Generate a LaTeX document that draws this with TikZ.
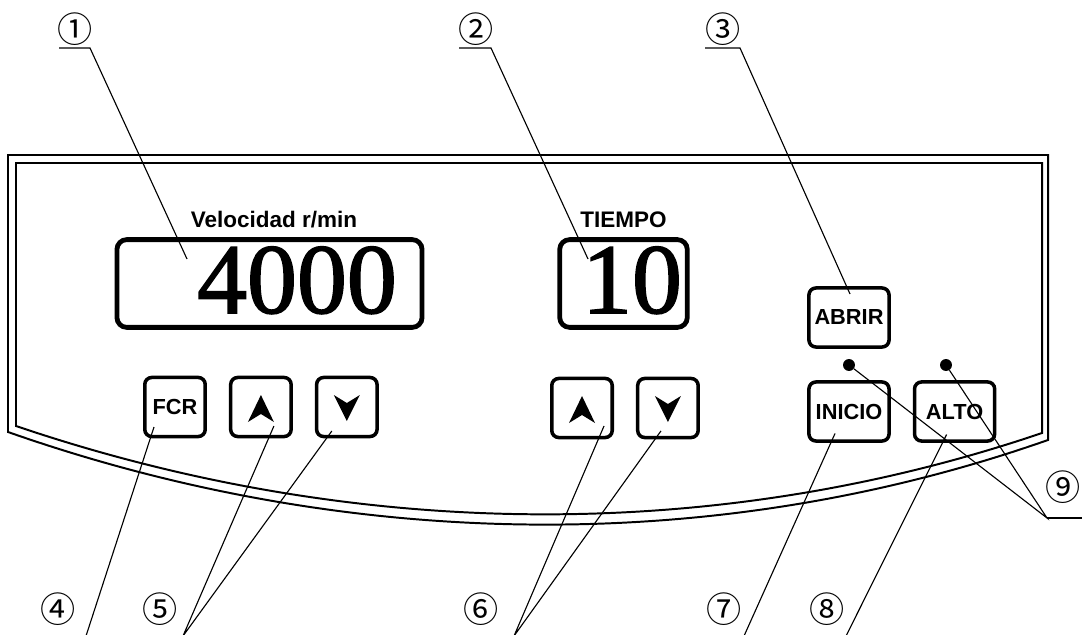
\documentclass[tikz,border=0pt]{standalone}
\usepackage{fontspec}
\setmainfont{Liberation Serif}
\setsansfont{Liberation Sans}
\newfontfamily\circfont{Noto Sans CJK SC}
\newfontfamily\lcdfont[FakeBold=1.6]{Liberation Serif}
\usetikzlibrary{positioning}

\begin{document}
\begin{tikzpicture}[x=0.025cm, y=-0.025cm,
    frame/.style={line width=1.4pt, line join=miter},
    display/.style={draw, line width=3.4pt, rounded corners=7pt, minimum height=62.4pt, inner sep=0pt},
    digits/.style={inner sep=0pt, font=\lcdfont\fontsize{71}{72}\selectfont},
    heading/.style={inner sep=0pt, font=\sffamily\bfseries\fontsize{16}{18}\selectfont},
    key/.style={draw, line width=2.5pt, rounded corners=5pt, minimum width=43pt, minimum height=42pt, inner sep=0pt, font=\sffamily\bfseries\fontsize{15.5}{17}\selectfont},
    widekey/.style={key, minimum width=57pt},
    lamp/.style={circle, fill, minimum size=8.5pt, inner sep=0pt},
    callout/.style={inner sep=0pt, font=\circfont\fontsize{25}{27}\selectfont},
    leader/.style={line width=0.8pt}]
    \useasboundingbox (0,0) rectangle (1082,635);

    % panel
    \draw[frame] (8,432) -- (8,155) -- (1048,155) -- (1048,440)
        .. controls (712,558) and (344,550) .. cycle;
    \draw[frame] (16,426) -- (16,163) -- (1042,163) -- (1042,433)
        .. controls (709,546) and (349,539) .. cycle;

    % displays
    \node[display, minimum width=217pt] (speed) at (269.5,283.5) {};
    \node[display, minimum width=90.7pt] (time) at (623.5,283.5) {};
    \node[digits, anchor=base] (speedval) at (297,313) {4000};
    \node[digits, anchor=base] (timeval) at (632,313) {10};
    \node[heading, anchor=base] (speedhead) at (274,228) {Velocidad r/min};
    \node[heading, anchor=base] (timehead) at (623.5,228) {TIEMPO};

    % keys
    \node[key] (fcr) at (175,407) {FCR};
    \node[key, right=15.6pt of fcr] (up1) {};
    \node[key, right=15.6pt of up1] (down1) {};
    \node[key] (up2) at (582,408) {};
    \node[key, right=15.6pt of up2] (down2) {};
    \node[widekey] (abrir) at (849,317.5) {ABRIR};
    \node[widekey] (inicio) at (849,411.5) {INICIO};
    \node[widekey, right=15.6pt of inicio] (alto) {ALTO};
    \node[lamp] (lamp1) at (849,365) {};
    \node[lamp] (lamp2) at (946,365) {};

    % arrow marks
    \fill ([shift={(0,-12)}]up1.center) -- ([shift={(13,15)}]up1.center) -- ([shift={(0,7)}]up1.center) -- ([shift={(-13,15)}]up1.center) -- cycle;
    \fill ([shift={(0,-12)}]up2.center) -- ([shift={(13,15)}]up2.center) -- ([shift={(0,7)}]up2.center) -- ([shift={(-13,15)}]up2.center) -- cycle;
    \fill ([shift={(0,14)}]down1.center) -- ([shift={(13,-12)}]down1.center) -- ([shift={(0,-4)}]down1.center) -- ([shift={(-13,-12)}]down1.center) -- cycle;
    \fill ([shift={(0,14)}]down2.center) -- ([shift={(13,-12)}]down2.center) -- ([shift={(0,-4)}]down2.center) -- ([shift={(-13,-12)}]down2.center) -- cycle;

    % callouts on top
    \node[callout] (c1) at (75,29) {①};
    \node[callout] (c2) at (476,29) {②};
    \node[callout] (c3) at (723,29) {③};
    \coordinate (p1) at (187,259);
    \coordinate (p2) at (588,259);
    \coordinate (p3) at (850,294);
    \draw[leader] (59,48) -- (90,48) -- (p1);
    \draw[leader] (459,48) -- (491,48) -- (p2);
    \draw[leader] (705,48) -- (740,48) -- (p3);

    % callouts below
    \node[callout] (c4) at (58,609) {④};
    \node[callout] (c5) at (160,609) {⑤};
    \node[callout] (c6) at (481,609) {⑥};
    \node[callout] (c7) at (724,609) {⑦};
    \node[callout] (c8) at (827,609) {⑧};
    \node[callout] (c9) at (1063,487) {⑨};
    \coordinate (e4) at (86,636);
    \coordinate (e5) at (183,636);
    \coordinate (e6) at (514,636);
    \coordinate (e7) at (744,636);
    \coordinate (e8) at (846,636);
    \coordinate (e9) at (1047,518);
    \draw[leader] ([shift={(-21,20)}]fcr.center) -- (e4); % 4
    \draw[leader] ([shift={(13,19)}]up1.center) -- (e5) -- ([shift={(-15,24)}]down1.center); % 5
    \draw[leader] ([shift={(22,18)}]up2.center) -- (e6) -- ([shift={(-7,23)}]down2.center); % 6
    \draw[leader] ([shift={(-14,22)}]inicio.center) -- (e7); % 7
    \draw[leader] ([shift={(-8,23)}]alto.center) -- (e8); % 8
    \draw[leader] (lamp1) -- (e9) -- (lamp2); % 9
    \draw[leader] (e9) -- (1083,518);
\end{tikzpicture}
\end{document}
